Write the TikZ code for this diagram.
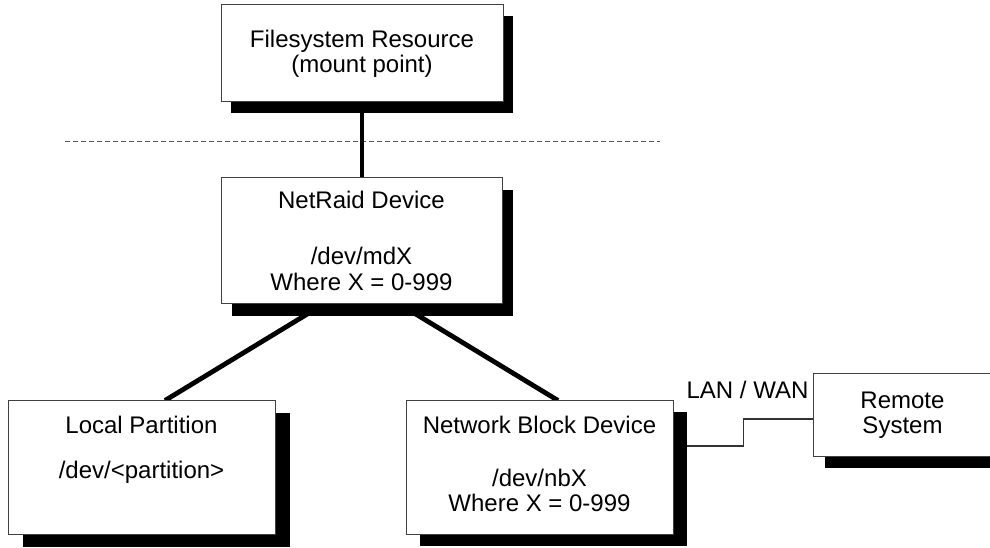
\documentclass[tikz,border=0pt]{standalone}
\usepackage{fontspec}
\setmainfont{Liberation Sans}
\usetikzlibrary{shadows,calc}
\newcommand\bodyfont{\fontsize{18pt}{19pt}\selectfont}
\pgfdeclarelayer{back}
\pgfdeclarelayer{wires}
\pgfsetlayers{back,wires,main}
\tikzset{
  box/.style={draw=black!75, line width=0.75pt, fill=white, align=center,
    inner sep=0pt, font=\bodyfont},
  castshadow/.style 2 args={drop shadow={shadow xshift=#1*0.75pt,
    shadow yshift=-#2*0.75pt, fill=black, opacity=1}},
  thickwire/.style={draw=black, line width=3.6pt},
  thinwire/.style={draw=black!80, line width=0.8pt},
  divider/.style={draw=black!65, line width=0.75pt, dash pattern=on 3.75pt off 2.25pt},
  tag/.style={font=\bodyfont, inner sep=0pt}
}
\begin{document}
\begin{tikzpicture}[x=0.75pt, y=-0.75pt]
  \useasboundingbox (0,0) rectangle (990,548);
  \begin{pgfonlayer}{back}
    \fill[white] (0,0) rectangle (990,548);
  \end{pgfonlayer}

  % device stack
  \node[box, castshadow={10}{11}, minimum width=211.5pt, minimum height=72.75pt]
    (fs) at (362,53.5) {Filesystem Resource\\(mount point)};
  \node[box, castshadow={11}{12}, minimum width=210.75pt, minimum height=94.5pt]
    (raid) at (361.5,241) {NetRaid Device\\[23pt]/dev/mdX\\Where X = 0-999};
  \node[box, castshadow={15}{12}, minimum width=200.25pt, minimum height=100.5pt]
    (local) at (141.5,468) {Local Partition\\[14.75pt]/dev/<partition>\\[12.6pt]\mbox{}};
  \node[box, castshadow={14}{11}, minimum width=200.25pt, minimum height=100.5pt]
    (nbd) at (539.5,468) {Network Block Device\\[20.75pt]/dev/nbX\\Where X = 0-999\\[-12.25pt]\mbox{}};
  \node[box, castshadow={12}{11}, minimum width=134.25pt, minimum height=62.25pt]
    (remote) at (902.5,415.5) {Remote\\System};

  \node[tag, anchor=base] (lan) at (747.5,399) {LAN / WAN};

  % kernel / user boundary
  \coordinate (divL) at (65,142);
  \coordinate (divR) at (660,142);
  \begin{pgfonlayer}{back}
    \draw[divider] (divL) -- (divR);
  \end{pgfonlayer}

  % connections
  \begin{pgfonlayer}{wires}
    \draw[thickwire] (fs.south) -- (fs.south |- raid.north);
    \draw[thickwire] ($(raid.south)+(-38.5,0)$) -- ($(local.north)+(23.5,0)$);
    \draw[thickwire] ($(raid.south)+(38.5,0)$) -- ($(nbd.north)+(18.5,0)$);
    \draw[thinwire] ($(nbd.east)+(0,-22)$) -- ++(70,0) |- ($(remote.west)+(0,3.5)$);
  \end{pgfonlayer}
\end{tikzpicture}
\end{document}
